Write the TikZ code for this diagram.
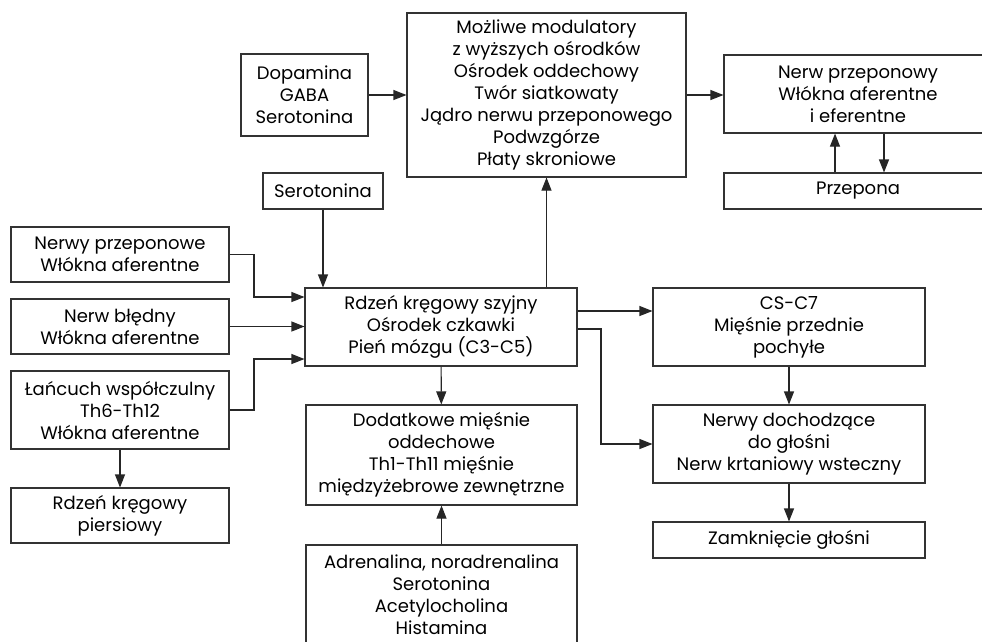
\documentclass[tikz,border=0pt]{standalone}
\usepackage{fontspec}
\setmainfont{Poppins}
\usetikzlibrary{arrows.meta}

\begin{document}
\begin{tikzpicture}[x=1pt, y=-1pt, every node/.style={font=\fontsize{18}{22}\selectfont},
	blok/.style 2 args={draw=black!80, line width=1.1pt, align=center, inner sep=0pt, minimum width=#1, minimum height=#2},
	>={Triangle[length=13pt, width=10pt]}, line width=1.1pt, draw=black!85]
	\path[use as bounding box, clip] (0,0) rectangle (982,641);
	% centre column
	\node[blok={279pt}{164pt}] (mod) at (546.5,95) {Możliwe modulatory\\z wyższych ośrodków\\Ośrodek oddechowy\\Twór siatkowaty\\Jądro nerwu przeponowego\\Podwzgórze\\Płaty skroniowe};
	\node[blok={127pt}{82pt}] (dopa) at (304.5,95) {Dopamina\\GABA\\Serotonina};
	\node[blok={120pt}{36pt}] (sero) at (323,191) {Serotonina};
	\node[blok={272pt}{78pt}] (rdzen) at (441,327) {Rdzeń kręgowy szyjny\\Ośrodek czkawki\\Pień mózgu (C3-C5)};
	\node[blok={271pt}{100pt}] (dod) at (441.5,455) {Dodatkowe mięśnie\\oddechowe\\Th1-Th11 mięśnie\\międzyżebrowe zewnętrzne};
	\node[blok={271pt}{100pt}] (adr) at (441.5,595) {Adrenalina, noradrenalina\\Serotonina\\Acetylocholina\\Histamina};
	% left column
	\foreach \nm/\yy/\hh/\lab in {nprzs/254.5/55/{Nerwy przeponowe\\Włókna aferentne}, nbl/326.5/55/{Nerw błędny\\Włókna aferentne}, lan/410/78/{Łańcuch współczulny\\Th6-Th12\\Włókna aferentne}, piers/515.5/55/{Rdzeń kręgowy\\piersiowy}} {
		\node[blok={218pt}{\hh pt}] (\nm) at (120,\yy) {\lab};
	}
	% right column
	\node[blok={268pt}{78pt}] (nprz) at (858,94) {Nerw przeponowy\\Włókna aferentne\\i eferentne};
	\node[blok={268pt}{36pt}] (przep) at (858,191) {Przepona};
	\node[blok={272pt}{78pt}] (cs) at (789,327) {CS-C7\\Mięśnie przednie\\pochyłe};
	\node[blok={272pt}{78pt}] (ndo) at (789,444) {Nerwy dochodzące\\do głośni\\Nerw krtaniowy wsteczny};
	\node[blok={272pt}{36pt}] (zamk) at (789,540) {Zamknięcie głośni};

	\draw[->] (dopa) -- (mod);
	\draw[->] (mod.east) -- (mod.east -| nprz.west);
	\draw[->] (przep.north -| 835,0) -- (nprz.south -| 835,0);
	\draw[->] (nprz.south -| 884,0) -- (przep.north -| 884,0);
	\draw[->] (sero) -- (sero |- rdzen.north);
	\draw[->] (rdzen.north -| mod.south) -- (mod.south);
	\draw[->] (nprzs.east) -| (254,297) -- ([yshift=30pt]rdzen.west);
	\draw[->] (nbl.east) -- (nbl.east -| rdzen.west);
	\draw[->] (lan.east) -| (254,359) -- ([yshift=-32pt]rdzen.west);
	\draw[->] (lan) -- (piers);
	\draw[->] (rdzen) -- (dod);
	\draw[->] (adr) -- (dod);
	\draw[->] ([yshift=16pt]rdzen.east) -- ([yshift=16pt]rdzen.east -| cs.west);
	\draw[->] ([yshift=-2pt]rdzen.east) -| (601,444) -- (ndo.west);
	\draw[->] (cs) -- (ndo);
	\draw[->] (ndo) -- (zamk);
\end{tikzpicture}
\end{document}
